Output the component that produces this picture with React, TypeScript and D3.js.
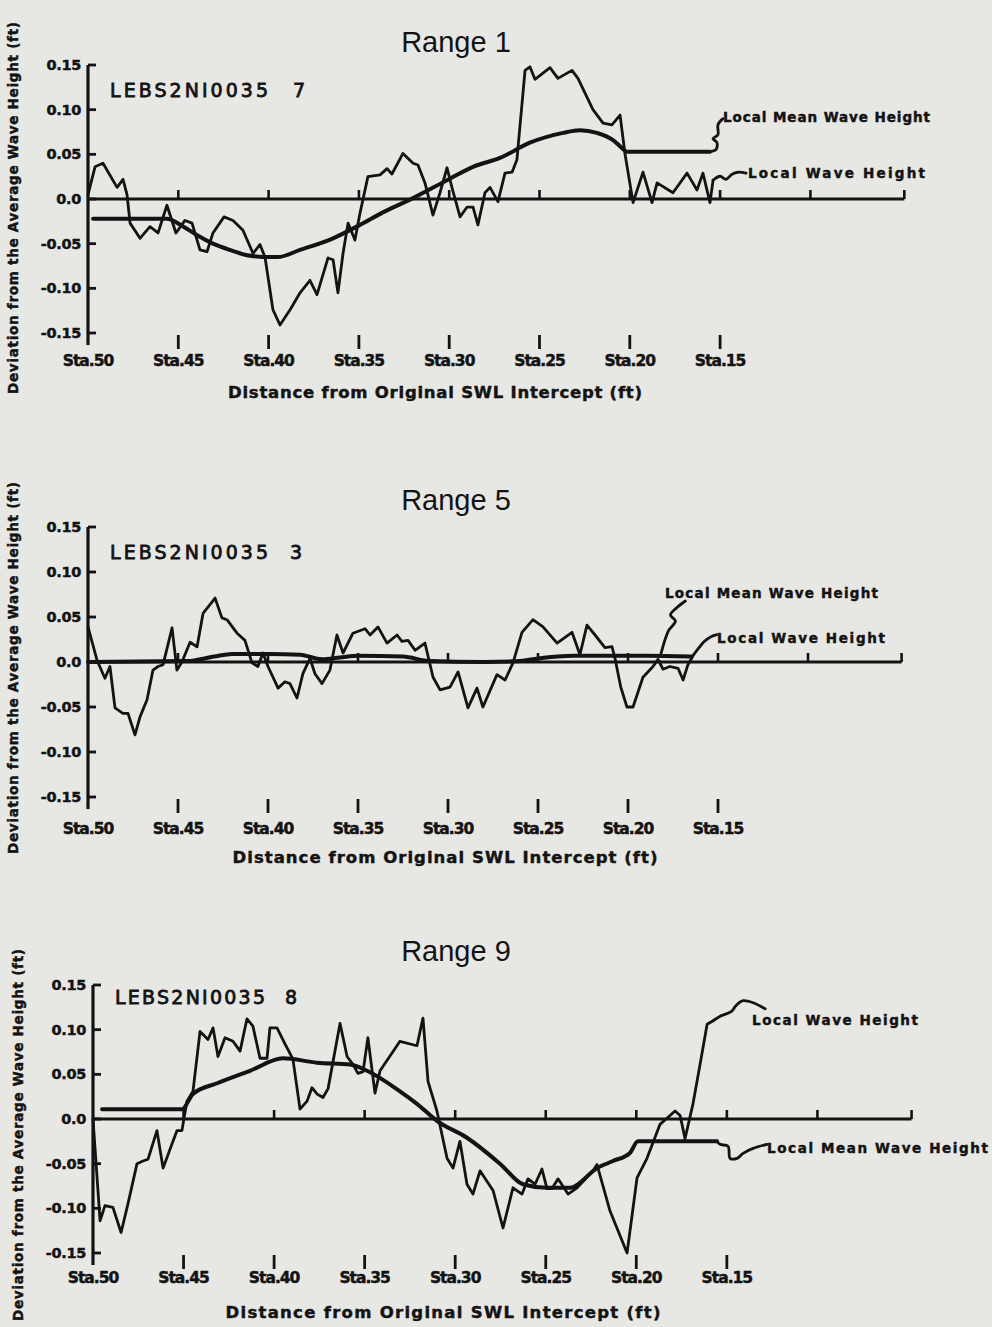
import React from 'react';
import * as d3 from 'd3';

const W = 992;
const H = 1327;
const INK = '#131313';
const PAPER = '#e7e7e4';

// ---------- axis content ----------
const STATIONS = [50, 45, 40, 35, 30, 25, 20, 15];
const STATION_LABELS = ['Sta.50', 'Sta.45', 'Sta.40', 'Sta.35', 'Sta.30', 'Sta.25', 'Sta.20', 'Sta.15'];
const ZERO_TICKS = [45, 40, 35, 30, 25, 20, 15, 10];
const AXIS_END = 4.8;
const Y_TICKS = [0.15, 0.1, 0.05, 0.0, -0.05, -0.1, -0.15];
const Y_TICK_LABELS = ['0.15', '0.10', '0.05', '0.0', '-0.05', '-0.10', '-0.15'];
const TITLES = ['Range 1', 'Range 5', 'Range 9'];
const RUN_IDS = ['LEBS2NI0035', 'LEBS2NI0035', 'LEBS2NI0035'];
const RUN_NUMS = ['7', '3', '8'];
const X_LABEL = 'Distance from Original SWL Intercept (ft)';
const Y_LABEL = 'Deviation from the Average Wave Height (ft)';
const MEAN_LABEL = 'Local Mean Wave Height';
const WAVE_LABEL = 'Local Wave Height';

// ---------- Range 1 ----------
const r1WaveSta = [50.0, 49.61, 49.17, 48.39, 48.06, 47.84, 47.67, 47.12, 46.57, 46.12, 45.63, 45.13, 44.63, 44.24, 43.8, 43.41, 43.08, 42.47, 41.97, 41.42, 40.86, 40.48, 40.2, 39.76, 39.37, 38.81, 38.26, 37.71, 37.32, 36.71, 36.43, 36.16, 35.88, 35.6, 35.22, 34.94, 34.5, 33.83, 33.44, 33.17, 32.56, 32.0, 31.73, 31.34, 30.9, 30.51, 30.12, 29.85, 29.4, 29.01, 28.68, 28.41, 28.02, 27.74, 27.3, 26.91, 26.52, 26.25, 25.8, 25.53, 25.25, 24.42, 23.98, 23.2, 22.87, 22.04, 21.48, 20.99, 20.54, 20.27, 19.82, 19.27, 18.77, 18.49, 17.61, 16.83, 16.28, 15.95, 15.56, 15.39];
const r1WaveVal = [0.005, 0.036, 0.04, 0.013, 0.022, 0.005, -0.027, -0.044, -0.031, -0.038, -0.007, -0.038, -0.024, -0.027, -0.057, -0.059, -0.038, -0.02, -0.024, -0.035, -0.061, -0.051, -0.065, -0.124, -0.141, -0.124, -0.105, -0.091, -0.107, -0.066, -0.068, -0.105, -0.061, -0.027, -0.046, -0.016, 0.025, 0.027, 0.034, 0.028, 0.051, 0.04, 0.038, 0.018, -0.018, 0.007, 0.035, 0.013, -0.02, -0.009, -0.009, -0.029, 0.007, 0.013, -0.003, 0.029, 0.03, 0.044, 0.144, 0.148, 0.134, 0.147, 0.135, 0.144, 0.135, 0.1, 0.085, 0.083, 0.094, 0.051, -0.004, 0.03, -0.004, 0.018, 0.007, 0.029, 0.01, 0.029, -0.004, 0.021];
const r1MeanSta = [49.72, 45.63, 44.8, 44.0, 43.08, 42.0, 41.2, 39.9, 39.5, 38.26, 36.43, 34.94, 33.67, 32.0, 30.12, 28.68, 27.19, 25.53, 23.7, 22.76, 21.82, 20.93, 20.43, 20.16, 15.56];
const r1MeanVal = [-0.022, -0.022, -0.03, -0.04, -0.05, -0.058, -0.063, -0.065, -0.065, -0.057, -0.044, -0.029, -0.015, 0.001, 0.021, 0.036, 0.046, 0.063, 0.074, 0.077, 0.074, 0.066, 0.057, 0.053, 0.053];

// ---------- Range 5 ----------
const r5WaveSta = [50.0, 49.5, 49.06, 48.78, 48.5, 48.06, 47.78, 47.39, 47.11, 46.72, 46.39, 46.11, 45.83, 45.33, 45.06, 44.78, 44.33, 43.94, 43.61, 42.94, 42.56, 42.28, 41.72, 41.28, 40.89, 40.56, 40.28, 40.0, 39.44, 39.06, 38.78, 38.39, 38.06, 37.67, 37.39, 37.0, 36.56, 36.17, 35.83, 35.28, 34.61, 34.33, 33.89, 33.39, 32.83, 32.56, 32.22, 31.83, 31.28, 30.83, 30.44, 29.89, 29.44, 28.89, 28.39, 28.06, 27.28, 26.83, 26.39, 25.89, 25.28, 24.72, 23.94, 23.11, 22.67, 22.28, 21.83, 21.28, 20.89, 20.72, 20.4, 20.06, 19.72, 19.17, 18.61, 18.33, 18.06, 17.67, 17.22, 16.94, 16.67, 16.39];
const r5WaveVal = [0.039, 0.002, -0.018, -0.005, -0.051, -0.057, -0.057, -0.081, -0.061, -0.042, -0.009, -0.005, -0.003, 0.038, -0.009, 0.0, 0.022, 0.017, 0.054, 0.071, 0.049, 0.047, 0.032, 0.024, -0.001, -0.005, 0.01, -0.005, -0.029, -0.022, -0.024, -0.04, -0.013, 0.004, -0.013, -0.024, -0.009, 0.03, 0.01, 0.032, 0.037, 0.03, 0.039, 0.021, 0.03, 0.023, 0.024, 0.013, 0.021, -0.017, -0.031, -0.028, -0.011, -0.051, -0.029, -0.05, -0.014, -0.02, -0.001, 0.033, 0.047, 0.039, 0.021, 0.033, 0.008, 0.041, 0.03, 0.016, 0.017, 0.004, -0.028, -0.05, -0.05, -0.017, -0.005, 0.003, -0.008, -0.005, -0.007, -0.02, -0.003, 0.007];
const r5MeanSta = [50.0, 44.5, 43.0, 42.0, 40.0, 38.2, 37.0, 36.0, 35.0, 32.5, 31.0, 28.0, 26.0, 25.0, 23.0, 19.0, 16.5];
const r5MeanVal = [0.0, 0.001, 0.006, 0.009, 0.009, 0.008, 0.003, 0.005, 0.007, 0.006, 0.001, 0.0, 0.001, 0.004, 0.007, 0.007, 0.006];

// ---------- Range 9 ----------
const r9WaveSta = [50.0, 49.61, 49.34, 48.9, 48.45, 48.07, 47.57, 47.24, 46.96, 46.47, 46.13, 45.64, 45.36, 45.09, 44.81, 44.48, 44.09, 43.65, 43.37, 43.1, 42.71, 42.27, 41.88, 41.5, 41.17, 40.78, 40.39, 40.23, 39.84, 39.4, 38.96, 38.57, 38.18, 37.91, 37.63, 37.3, 37.02, 36.36, 35.97, 35.64, 35.37, 35.09, 34.82, 34.43, 34.15, 33.05, 32.11, 31.78, 31.5, 31.01, 30.45, 30.12, 29.74, 29.35, 29.02, 28.63, 27.91, 27.36, 26.81, 26.31, 25.98, 25.59, 25.21, 24.93, 24.66, 24.32, 23.77, 23.27, 22.39, 22.17, 21.45, 20.51, 19.96, 19.41, 18.69, 17.86, 17.58, 17.31, 16.87, 16.48, 16.09, 15.76];
const r9WaveVal = [0.0, -0.114, -0.097, -0.099, -0.127, -0.095, -0.05, -0.047, -0.045, -0.013, -0.055, -0.028, -0.013, -0.013, 0.02, 0.031, 0.098, 0.089, 0.102, 0.07, 0.091, 0.087, 0.076, 0.112, 0.104, 0.068, 0.068, 0.102, 0.102, 0.084, 0.067, 0.011, 0.02, 0.035, 0.028, 0.024, 0.034, 0.107, 0.07, 0.061, 0.051, 0.053, 0.091, 0.029, 0.054, 0.087, 0.082, 0.113, 0.042, 0.009, -0.044, -0.055, -0.025, -0.073, -0.084, -0.058, -0.08, -0.122, -0.077, -0.084, -0.067, -0.073, -0.056, -0.078, -0.078, -0.067, -0.084, -0.077, -0.058, -0.051, -0.103, -0.15, -0.066, -0.044, -0.006, 0.009, 0.004, -0.022, 0.017, 0.061, 0.106, 0.11];
const r9MeanSta = [49.5, 45.09, 44.48, 43.15, 41.33, 39.51, 37.63, 35.81, 34.87, 33.05, 32.11, 31.01, 29.35, 27.53, 26.26, 24.93, 23.66, 22.17, 21.29, 20.35, 19.91, 15.54];
const r9MeanVal = [0.011, 0.011, 0.028, 0.04, 0.054, 0.068, 0.063, 0.061, 0.054, 0.031, 0.017, -0.002, -0.021, -0.05, -0.073, -0.077, -0.077, -0.055, -0.047, -0.038, -0.025, -0.025];

type Pt = [number, number];
const zip = (a: number[], b: number[]): Pt[] => a.map((v, i) => [v, b[i]] as Pt);

const WAVES = [zip(r1WaveSta, r1WaveVal), zip(r5WaveSta, r5WaveVal), zip(r9WaveSta, r9WaveVal)];
const MEANS = [zip(r1MeanSta, r1MeanVal), zip(r5MeanSta, r5MeanVal), zip(r9MeanSta, r9MeanVal)];

// ---------- layout (positions only) ----------
const LAYOUT = [
  {
    x0: 88, pxPerSta: 18.06, yTop: 65, yBot: 333,
    titleY: 52, runY: 97, runX: 110, runW: 158, runNumX: 293,
    staY: 366, xLabelX: 435, xLabelY: 398, xLabelW: 414, yLabelCY: 208,
    meanLbl: { x: 723, y: 122, w: 207 }, waveLbl: { x: 748, y: 178, w: 177 },
    meanLead: { sta: 15.56, off: [[0, 0], [6, -2], [7, -9], [3, -13], [8, -17], [8, -27], [13, -33]] },
    waveLead: { sta: 15.39, off: [[0, 0], [7, -4], [13, -1], [19, -6], [25, -8], [33, -7]] },
  },
  {
    x0: 88, pxPerSta: 18.0, yTop: 527, yBot: 797,
    titleY: 510, runY: 559, runX: 110, runW: 158, runNumX: 290,
    staY: 834, xLabelX: 445, xLabelY: 863, xLabelW: 425, yLabelCY: 668,
    meanLbl: { x: 665, y: 598, w: 213 }, waveLbl: { x: 717, y: 643, w: 168 },
    meanLead: { sta: 18.2, off: [[0, 0], [8, -25], [15, -35], [10, -41], [16, -48], [25, -55]] },
    waveLead: { sta: 16.39, off: [[0, 0], [6, -8], [11, -14], [18, -19], [24, -21]] },
  },
  {
    x0: 93, pxPerSta: 18.11, yTop: 985, yBot: 1253,
    titleY: 961, runY: 1004, runX: 115, runW: 150, runNumX: 285,
    staY: 1283, xLabelX: 443, xLabelY: 1318, xLabelW: 435, yLabelCY: 1135,
    meanLbl: { x: 767, y: 1153, w: 221 }, waveLbl: { x: 752, y: 1025, w: 166 },
    meanLead: { sta: 15.54, off: [[0, 0], [3, 3], [11, 5], [13, 17], [20, 17], [26, 12], [36, 7], [50, 3]] },
    waveLead: { sta: 15.76, off: [[0, 0], [8, -5], [18, -9], [22, -14], [26, -18], [30, -20], [40, -18], [52, -12]] },
  },
];

const BOLD = '"DejaVu Sans", "Liberation Sans", sans-serif';

function Panel({ idx }: { idx: number }) {
  const L = LAYOUT[idx];
  const x = d3.scaleLinear().domain([50, AXIS_END]).range([L.x0, L.x0 + (50 - AXIS_END) * L.pxPerSta]);
  const y = d3.scaleLinear().domain([-0.15, 0.15]).range([L.yBot, L.yTop]);
  const line = d3.line<Pt>().x((d) => x(d[0])).y((d) => y(d[1])).curve(d3.curveLinear);
  const smooth = d3.line<Pt>().x((d) => x(d[0])).y((d) => y(d[1])).curve(d3.curveMonotoneX);
  const wave = WAVES[idx];
  const mean = MEANS[idx];

  const valAt = (series: Pt[], sta: number) => {
    const s = [...series].sort((a, b) => a[0] - b[0]);
    for (let i = 0; i < s.length - 1; i++) {
      if (sta >= s[i][0] && sta <= s[i + 1][0]) {
        const t = (sta - s[i][0]) / (s[i + 1][0] - s[i][0]);
        return s[i][1] + t * (s[i + 1][1] - s[i][1]);
      }
    }
    return s[s.length - 1][1];
  };
  const leader = (series: Pt[], spec: { sta: number; off: number[][] }) => {
    const ax = x(spec.sta);
    const ay = y(valAt(series, spec.sta));
    return d3.line().curve(d3.curveCatmullRom)(spec.off.map((o) => [ax + o[0], ay + o[1]] as [number, number])) || '';
  };

  const xEnd = x(AXIS_END);
  const heavy = { fill: INK, stroke: INK, strokeWidth: 0.45, paintOrder: 'stroke' as const };
  return (
    <g>
      <text x={456} y={L.titleY} textAnchor="middle" fontFamily='"Liberation Sans", Arial, sans-serif' fontSize={29} fill={INK}>
        {TITLES[idx]}
      </text>
      <text x={L.runX} y={L.runY} fontFamily={BOLD} fontSize={19} {...heavy} strokeWidth={0.8} textLength={L.runW} lengthAdjust="spacing">
        {RUN_IDS[idx]}
      </text>
      <text x={L.runNumX} y={L.runY} fontFamily={BOLD} fontSize={19} {...heavy} strokeWidth={0.8}>
        {RUN_NUMS[idx]}
      </text>

      {/* y axis */}
      <line x1={x(50)} x2={x(50)} y1={y(0.15)} y2={y(-0.15) + 12} stroke={INK} strokeWidth={3.2} />
      {Y_TICKS.map((t, i) => (
        <g key={'yt' + i}>
          <line x1={x(50)} x2={x(50) + 8} y1={y(t)} y2={y(t)} stroke={INK} strokeWidth={2.8} />
          <text x={x(50) - 7} y={y(t) + 5} textAnchor="end" fontFamily={BOLD} fontWeight="bold" fontSize={14.5} letterSpacing={-0.3} {...heavy}>
            {Y_TICK_LABELS[i]}
          </text>
        </g>
      ))}
      <text
        transform={`translate(${x(50) - 70},${L.yLabelCY}) rotate(-90)`}
        textAnchor="middle"
        fontFamily={BOLD}
        fontWeight="bold"
        fontSize={13.5}
        {...heavy}
        textLength={372}
        lengthAdjust="spacing"
      >
        {Y_LABEL}
      </text>

      {/* zero line */}
      <line x1={x(50)} x2={xEnd} y1={y(0)} y2={y(0)} stroke={INK} strokeWidth={3.2} />
      {ZERO_TICKS.concat([AXIS_END]).map((s, i) => (
        <line key={'zt' + i} x1={x(s)} x2={x(s)} y1={y(0)} y2={y(0) - 9} stroke={INK} strokeWidth={2.6} />
      ))}

      {/* station ticks and labels */}
      {STATIONS.map((s, i) => (
        <g key={'st' + i}>
          {s !== 50 && <line x1={x(s)} x2={x(s)} y1={y(-0.15) + 2} y2={y(-0.15) + 16} stroke={INK} strokeWidth={2.8} />}
          <text x={x(s)} y={L.staY} textAnchor="middle" fontFamily={BOLD} fontWeight="bold" fontSize={15.5} letterSpacing={-1} {...heavy}>
            {STATION_LABELS[i]}
          </text>
        </g>
      ))}
      <text x={L.xLabelX} y={L.xLabelY} textAnchor="middle" fontFamily={BOLD} fontWeight="bold" fontSize={16.5} {...heavy} textLength={L.xLabelW} lengthAdjust="spacing">
        {X_LABEL}
      </text>

      {/* series */}
      <path d={smooth(mean) || ''} fill="none" stroke={INK} strokeWidth={4} strokeLinejoin="round" strokeLinecap="round" />
      <path d={line(wave) || ''} fill="none" stroke={INK} strokeWidth={2.8} strokeLinejoin="round" strokeLinecap="round" />

      {/* leaders + labels */}
      <path d={leader(mean, L.meanLead)} fill="none" stroke={INK} strokeWidth={2.8} strokeLinejoin="round" strokeLinecap="round" />
      <path d={leader(wave, L.waveLead)} fill="none" stroke={INK} strokeWidth={2.8} strokeLinejoin="round" strokeLinecap="round" />
      <text x={L.meanLbl.x} y={L.meanLbl.y} fontFamily={BOLD} fontWeight="bold" fontSize={13.5} {...heavy} textLength={L.meanLbl.w} lengthAdjust="spacing">
        {MEAN_LABEL}
      </text>
      <text x={L.waveLbl.x} y={L.waveLbl.y} fontFamily={BOLD} fontWeight="bold" fontSize={13.5} {...heavy} textLength={L.waveLbl.w} lengthAdjust="spacing">
        {WAVE_LABEL}
      </text>
    </g>
  );
}

export default function App() {
  return (
    <svg
      width={W}
      height={H}
      viewBox={`0 0 ${W} ${H}`}
      style={{ position: 'absolute', left: 0, top: 0, display: 'block' }}
    >
      <rect x={0} y={0} width={W} height={H} fill={PAPER} />
      {[0, 1, 2].map((i) => (
        <Panel key={i} idx={i} />
      ))}
    </svg>
  );
}
